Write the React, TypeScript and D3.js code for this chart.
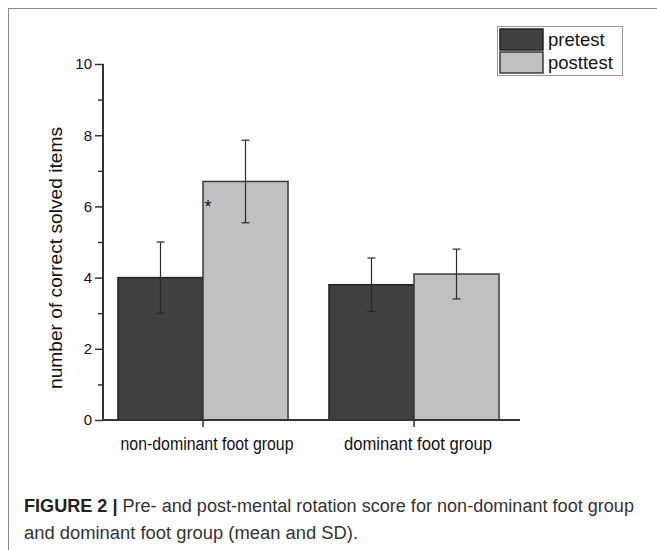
import React, { useEffect, useRef } from 'react';
import * as d3 from 'd3';

// groups and series
const groups = ['non-dominant foot group', 'dominant foot group'];
const series = ['pretest', 'posttest'];

// mean and SD per group
const pretestMean = [4.0, 3.8];
const pretestSD = [1.0, 0.75];
const posttestMean = [6.7, 4.1];
const posttestSD = [1.16, 0.7];

const majorTicks = [0, 2, 4, 6, 8, 10];
const minorTicks = [1, 3, 5, 7, 9];

// significance marker: group index + value
const sigGroup = 0;
const sigValue = 5.85;

const FONT = '"Liberation Sans", Arial, Helvetica, sans-serif';

const App = () => {
  const svgRef = useRef<SVGSVGElement>(null);

  useEffect(() => {
    const width = 657;
    const height = 550;
    const svg = d3.select(svgRef.current).attr('width', width).attr('height', height);
    svg.selectAll('*').remove();

    const fill = { pretest: '#414141', posttest: '#c0c0c0' };
    const stroke = { pretest: '#222', posttest: '#3a3a3a' };

    // outer frame
    svg.append('rect')
      .attr('x', 8.5).attr('y', 8.5)
      .attr('width', 700).attr('height', 600)
      .attr('fill', 'none').attr('stroke', '#8a8a8a').attr('stroke-width', 1);

    const axisLeft = 103;
    const x0 = d3.scaleBand()
      .domain(groups)
      .range([axisLeft, 514])
      .paddingInner(0.194)
      .paddingOuter(0.071);
    const x1 = d3.scaleBand().domain(series).range([0, x0.bandwidth()]).padding(0);
    const y = d3.scaleLinear().domain([0, 10]).range([420, 64]);

    const rows = groups.map((g, i) => ({
      group: g,
      vals: [
        { key: 'pretest', mean: pretestMean[i], sd: pretestSD[i] },
        { key: 'posttest', mean: posttestMean[i], sd: posttestSD[i] },
      ],
    }));

    // bars
    const gGroups = svg.append('g').selectAll('g')
      .data(rows)
      .enter().append('g')
      .attr('transform', d => `translate(${x0(d.group)},0)`);

    gGroups.selectAll('rect')
      .data(d => d.vals)
      .enter().append('rect')
      .attr('x', d => x1(d.key))
      .attr('y', d => y(d.mean))
      .attr('width', x1.bandwidth())
      .attr('height', d => y(0) - y(d.mean))
      .attr('fill', d => fill[d.key])
      .attr('stroke', d => stroke[d.key])
      .attr('stroke-width', 1.5);

    // error bars
    const eb = gGroups.selectAll('g.err')
      .data(d => d.vals)
      .enter().append('g')
      .attr('class', 'err')
      .attr('stroke', '#2a2a2a')
      .attr('stroke-width', 1.2);
    const cx = d => x1(d.key) + x1.bandwidth() / 2;
    eb.append('line')
      .attr('x1', cx).attr('x2', cx)
      .attr('y1', d => y(d.mean + d.sd)).attr('y2', d => y(d.mean - d.sd));
    eb.append('line')
      .attr('x1', d => cx(d) - 4).attr('x2', d => cx(d) + 4)
      .attr('y1', d => y(d.mean + d.sd)).attr('y2', d => y(d.mean + d.sd));
    eb.append('line')
      .attr('x1', d => cx(d) - 4).attr('x2', d => cx(d) + 4)
      .attr('y1', d => y(d.mean - d.sd)).attr('y2', d => y(d.mean - d.sd));

    // significance asterisk
    svg.append('text')
      .attr('x', x0(groups[sigGroup]) + x0.bandwidth() / 2 + 5)
      .attr('y', y(sigValue) + 1)
      .attr('text-anchor', 'middle')
      .style('font-family', FONT)
      .style('font-size', '18px')
      .attr('fill', '#111')
      .text('*');

    // y axis
    const yAxis = svg.append('g')
      .attr('transform', `translate(${axisLeft},0)`)
      .call(d3.axisLeft(y).tickValues(majorTicks).tickSize(8).tickPadding(3));
    yAxis.select('.domain').remove();
    yAxis.selectAll('line').attr('stroke', '#333').attr('stroke-width', 1.5);
    yAxis.selectAll('text')
      .style('font-family', FONT)
      .style('font-size', '15px')
      .attr('fill', '#111');

    const yMinor = svg.append('g')
      .attr('transform', `translate(${axisLeft},0)`)
      .call(d3.axisLeft(y).tickValues(minorTicks).tickSize(5).tickFormat(() => ''));
    yMinor.select('.domain').remove();
    yMinor.selectAll('line').attr('stroke', '#333').attr('stroke-width', 1.5);

    svg.append('line')
      .attr('x1', axisLeft).attr('x2', axisLeft)
      .attr('y1', y(10)).attr('y2', y(0) + 1)
      .attr('stroke', '#333').attr('stroke-width', 2);

    // x axis
    const xAxis = svg.append('g')
      .attr('transform', `translate(0,${y(0)})`)
      .call(d3.axisBottom(x0).tickSize(7).tickFormat(() => ''));
    xAxis.select('.domain').remove();
    xAxis.selectAll('line').attr('stroke', '#333').attr('stroke-width', 1.5);

    svg.append('line')
      .attr('x1', axisLeft - 1).attr('x2', 520)
      .attr('y1', y(0)).attr('y2', y(0))
      .attr('stroke', '#333').attr('stroke-width', 2);

    const groupLabelWidth = [173, 148];
    svg.append('g').selectAll('text')
      .data(groups)
      .enter().append('text')
      .attr('x', d => x0(d) + x0.bandwidth() / 2 + 4)
      .attr('y', 450)
      .attr('text-anchor', 'middle')
      .attr('textLength', (d, i) => groupLabelWidth[i])
      .attr('lengthAdjust', 'spacingAndGlyphs')
      .style('font-family', FONT)
      .style('font-size', '17.5px')
      .attr('fill', '#111')
      .text(d => d);

    // y label
    svg.append('text')
      .attr('transform', 'rotate(-90)')
      .attr('x', -258)
      .attr('y', 62)
      .attr('text-anchor', 'middle')
      .attr('textLength', 262)
      .attr('lengthAdjust', 'spacingAndGlyphs')
      .style('font-family', FONT)
      .style('font-size', '19px')
      .attr('fill', '#111')
      .text('number of correct solved items');

    // legend
    const leg = svg.append('g').attr('transform', 'translate(497,26)');
    leg.append('rect')
      .attr('x', 0.5).attr('y', 0.5)
      .attr('width', 125).attr('height', 49)
      .attr('fill', '#fff').attr('stroke', '#999').attr('stroke-width', 1);
    const li = leg.selectAll('g.item')
      .data(series)
      .enter().append('g')
      .attr('class', 'item')
      .attr('transform', (d, i) => `translate(3,${3 + i * 23})`);
    li.append('rect')
      .attr('width', 43).attr('height', 21)
      .attr('fill', d => fill[d])
      .attr('stroke', d => stroke[d])
      .attr('stroke-width', 1.5);
    li.append('text')
      .attr('x', 48).attr('y', 17)
      .style('font-family', FONT)
      .style('font-size', '18.5px')
      .attr('fill', '#111')
      .text(d => d);

    // caption
    const cap = svg.append('text')
      .attr('x', 24).attr('y', 512)
      .attr('textLength', 610)
      .attr('lengthAdjust', 'spacingAndGlyphs')
      .style('font-family', FONT)
      .style('font-size', '18px')
      .attr('fill', '#333');
    cap.append('tspan').style('font-weight', 'bold').attr('fill', '#222').text('FIGURE 2 | ');
    cap.append('tspan').text('Pre- and post-mental rotation score for non-dominant foot group');
    svg.append('text')
      .attr('x', 24).attr('y', 539)
      .attr('textLength', 334)
      .attr('lengthAdjust', 'spacingAndGlyphs')
      .style('font-family', FONT)
      .style('font-size', '18px')
      .attr('fill', '#333')
      .text('and dominant foot group (mean and SD).');
  }, []);

  return <svg ref={svgRef} style={{ position: 'absolute', left: 0, top: 0 }}></svg>;
};

export default App;
